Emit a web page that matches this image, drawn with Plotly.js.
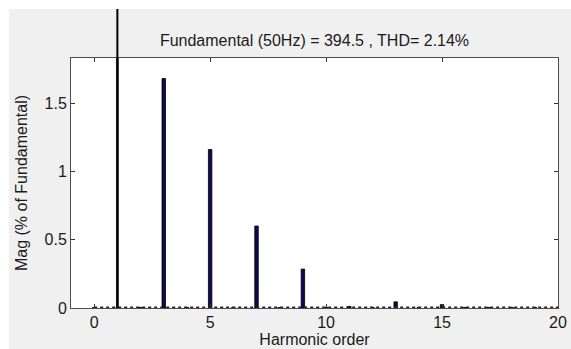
<!DOCTYPE html>
<html>
<head>
<meta charset="utf-8">
<script src="https://cdn.plot.ly/plotly-3.0.1.min.js"></script>
<style>
html,body{margin:0;padding:0;background:#ffffff;}
#chart{position:absolute;left:9px;top:9px;width:562px;height:340px;}
</style>
</head>
<body>
<div id="chart"></div>
<script>
// Harmonic orders and magnitudes (% of fundamental)
const orders = [0, 1, 2, 3, 4, 5, 6, 7, 8, 9, 10, 11, 12, 13, 14, 15, 16, 17, 18, 19, 20];
const mags   = [0.004, 100, 0.004, 1.68, 0.004, 1.16, 0.004, 0.60, 0.004, 0.285, 0.005, 0.012, 0.004, 0.045, 0.004, 0.025, 0.004, 0.004, 0.004, 0.004, 0.004];
const fundamentalOrder = 1;
const noiseX = [0, 20];
const noiseY = [0.006, 0.006];
const titleText = 'Fundamental (50Hz) = 394.5 , THD= 2.14%';
const xTicks = [0, 5, 10, 15, 20];
const yTicks = [0, 0.5, 1, 1.5];
const yTickText = ['0', '0.5', '1', '1.5'];
const xRange = [-1, 20];
const yRange = [0, 1.83];

const fx = [], fy = [], hx = [], hy = [];
orders.forEach((o, i) => {
  if (o === fundamentalOrder) { fx.push(o); fy.push(mags[i]); }
  else { hx.push(o); hy.push(mags[i]); }
});

const font = {family: 'Liberation Sans, Arial, sans-serif', size: 16, color: '#1a1a1a'};

const traces = [
  {type: 'scatter', mode: 'lines', x: noiseX, y: noiseY,
   line: {color: '#222222', width: 1.5, dash: 'dot'}, hoverinfo: 'skip', showlegend: false},
  {type: 'bar', x: hx, y: hy, width: 0.15,
   marker: {color: '#0b0b55', line: {color: '#000000', width: 0.8}}, showlegend: false},
  {type: 'bar', x: fx, y: fy, width: 0.08,
   marker: {color: '#000000', line: {color: '#000000', width: 0.5}}, showlegend: false}
];

// The fundamental runs far off-scale: continue its bar above the plot box (clipped only horizontally)
const shapes = fx.map((x, i) => ({
  type: 'line', xref: 'x', yref: 'paper', x0: x, x1: x,
  y0: 0, y1: (fy[i] - yRange[0]) / (yRange[1] - yRange[0]),
  line: {color: '#000000', width: 2}, layer: 'above'
}));

const axisCommon = {
  showline: true, linecolor: '#4d4d4d', linewidth: 1, mirror: 'allticks',
  ticks: 'inside', ticklen: 4, tickcolor: '#333333', tickwidth: 1,
  showgrid: false, zeroline: false, tickfont: font
};

const layout = {
  width: 562, height: 340,
  margin: {l: 62, r: 13, t: 49, b: 41, pad: 0},
  paper_bgcolor: '#f0f0f0', plot_bgcolor: '#ffffff',
  barmode: 'overlay',
  font: font,
  shapes: shapes,
  title: {text: titleText, font: {family: font.family, size: 16, color: '#1a1a1a'},
          x: 0.5, xref: 'paper', xanchor: 'center', y: 1 - 31/340, yref: 'container', yanchor: 'middle'},
  xaxis: Object.assign({}, axisCommon, {range: xRange, tickvals: xTicks, ticktext: xTicks.map(String),
          title: {text: 'Harmonic order', font: font, standoff: 2}}),
  yaxis: Object.assign({}, axisCommon, {range: yRange, tickvals: yTicks, ticktext: yTickText,
          title: {text: 'Mag (% of Fundamental)', font: font, standoff: 12}})
};

Plotly.newPlot('chart', traces, layout, {displayModeBar: false, staticPlot: true});
</script>
</body>
</html>
